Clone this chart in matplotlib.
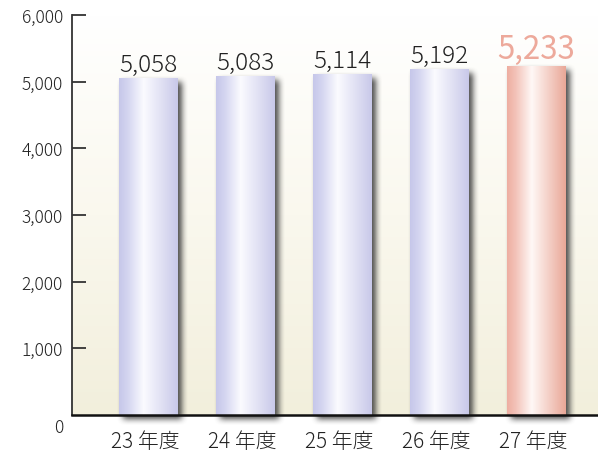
import numpy as np
import matplotlib
matplotlib.use("Agg")
import matplotlib.pyplot as plt
from matplotlib.colors import LinearSegmentedColormap

plt.rcParams['font.family'] = ['Noto Sans CJK JP', 'DejaVu Sans']
plt.rcParams['font.weight'] = 'light'

# data
categories = ["23 年度", "24 年度", "25 年度", "26 年度", "27 年度"]
values = [5058, 5083, 5114, 5192, 5233]
value_labels = ["5,058", "5,083", "5,114", "5,192", "5,233"]
yticks = [1000, 2000, 3000, 4000, 5000, 6000]
ytick_labels = ["1,000", "2,000", "3,000", "4,000", "5,000", "6,000"]
highlight = 4  # last year is drawn in salmon

fig = plt.figure(figsize=(5.98, 4.56), dpi=100)
ax = fig.add_axes([72 / 598, 40 / 456, 526 / 598, 400 / 456])

px_x = 97.0            # pixels per category step
bar_w = 59 / px_x
xlim = (-76.5 / px_x, 449.5 / px_x)
ymax = 6000
ax.set_xlim(*xlim)
ax.set_ylim(0, ymax)

# background gradient inside the plot area
bg = LinearSegmentedColormap.from_list("bg", ["#f2efdc", "#faf8ee", "#ffffff"])
grad = np.linspace(0, 1, 256).reshape(-1, 1)
ax.imshow(grad, extent=[xlim[0], xlim[1], 0, ymax], origin="lower",
          aspect="auto", cmap=bg, zorder=0)

# soft drop shadows to the right / below each bar
W, H_in, H_below = 526, 400, 24
H = H_in + H_below
mask = np.zeros((H, W))
dx, dy = 4, 4
for i, v in enumerate(values):
    c0 = int(round((i - bar_w / 2 - xlim[0]) * px_x)) + dx
    c1 = int(round((i + bar_w / 2 - xlim[0]) * px_x)) + dx
    r0 = int(round((ymax - v) * H_in / ymax)) + dy
    r1 = H_in + dy
    mask[r0:r1, c0:c1] = 1.0

def box_blur(a, k):
    ker = np.ones(k) / k
    a = np.apply_along_axis(lambda m: np.convolve(m, ker, mode="same"), 0, a)
    a = np.apply_along_axis(lambda m: np.convolve(m, ker, mode="same"), 1, a)
    return a

for _ in range(2):
    mask = box_blur(mask, 7)

shadow = np.zeros((H, W, 4))
shadow[..., :3] = 0.22
shadow[..., 3] = np.clip(mask, 0, 1) * 0.9
unit_y = ymax / H_in
ax.imshow(shadow, extent=[xlim[0], xlim[1], -H_below * unit_y, ymax],
          aspect="auto", zorder=1, clip_on=False, interpolation="bilinear")
ax.set_xlim(*xlim)
ax.set_ylim(0, ymax)

# cylinder-like bars
blue = LinearSegmentedColormap.from_list(
    "blue", [(0, "#c6c7ea"), (0.15, "#d4d5f0"), (0.42, "#fbfbff"),
             (1.0, "#c8c8e9")])
pink = LinearSegmentedColormap.from_list(
    "pink", [(0, "#eeaea1"), (0.15, "#f3c3b9"), (0.42, "#fff8f6"),
             (1.0, "#e9a797")])
hgrad = np.linspace(0, 1, 256).reshape(1, -1)

bars = ax.bar(range(len(values)), values, width=bar_w, color="none",
              edgecolor="none", zorder=2)
for i, (b, v) in enumerate(zip(bars, values)):
    cm = pink if i == highlight else blue
    im = ax.imshow(hgrad, extent=[i - bar_w / 2, i + bar_w / 2, 0, v],
                   aspect="auto", cmap=cm, zorder=3)
    im.set_clip_path(b)
ax.set_xlim(*xlim)
ax.set_ylim(0, ymax)

# value labels
for i, (v, lab) in enumerate(zip(values, value_labels)):
    if i == highlight:
        ax.annotate(lab, (i, v), xytext=(0, 6), textcoords="offset points",
                    ha="center", va="baseline", fontsize=22.5, color="#eda99b",
                    fontweight="normal", zorder=5)
    else:
        ax.annotate(lab, (i, v), xytext=(0, 5), textcoords="offset points",
                    ha="center", va="baseline", fontsize=17.5, color="#222222",
                    zorder=5)

# category labels
for i, cat in enumerate(categories):
    ax.annotate(cat, (i, 0), xytext=(-2, -19), textcoords="offset points",
                ha="center", va="center", fontsize=15, color="#222222",
                annotation_clip=False)

# axes styling
for s in ["top", "right"]:
    ax.spines[s].set_visible(False)
ax.spines["left"].set_linewidth(1.3)
ax.spines["left"].set_color("#333333")
ax.spines["bottom"].set_linewidth(1.8)
ax.spines["bottom"].set_color("#111111")
ax.spines["bottom"].set_zorder(6)
ax.set_xticks([])
ax.set_yticks(yticks)
ax.set_yticklabels(ytick_labels)
ax.tick_params(axis="y", direction="in", length=10, width=1.3,
               color="#333333", pad=6.5, labelsize=12.5, labelcolor="#222222")
ax.annotate("0", (0, 0), xycoords="axes fraction", xytext=(-6.5, -9),
            textcoords="offset points", ha="right", va="center",
            fontsize=12.5, color="#222222", annotation_clip=False)

fig.savefig("out.png", dpi=100)
